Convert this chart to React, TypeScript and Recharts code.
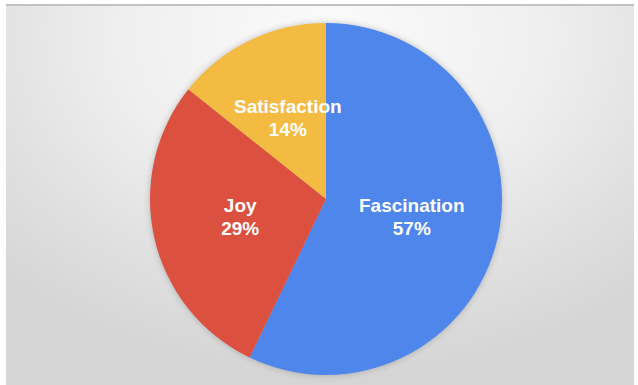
import React from 'react';
import { PieChart, Pie, Cell } from 'recharts';

const categories = ['Fascination', 'Joy', 'Satisfaction'];
const values = [4, 2, 1];
const percentLabels = ['57%', '29%', '14%'];
const colors = ['#4f86ec', '#dc5040', '#f3bb42'];

const data = categories.map((name, i) => ({ name, value: values[i], pct: percentLabels[i] }));

const RADIAN = Math.PI / 180;

const renderLabel = (props: any) => {
  const { cx, cy, midAngle, outerRadius, index } = props;
  const r = outerRadius * 0.5;
  const x = cx + r * Math.cos(-midAngle * RADIAN);
  const y = cy + r * Math.sin(-midAngle * RADIAN);
  return (
    <text
      x={x}
      y={y}
      textAnchor="middle"
      fill="#ffffff"
      fontFamily="'Liberation Sans', Arial, sans-serif"
      fontWeight="bold"
      fontSize={19}
    >
      <tspan x={x} dy={-7}>{data[index].name}</tspan>
      <tspan x={x} dy={23.5}>{data[index].pct}</tspan>
    </text>
  );
};

export default function App() {
  return (
    <div
      style={{
        position: 'absolute',
        left: 6,
        top: 4,
        width: 628,
        height: 381,
        borderTop: '2px solid #c2c2c2',
        boxSizing: 'border-box',
        background:
          'radial-gradient(ellipse 75% 90% at 52% 8%, #fbfbfb 0%, #efefef 45%, #e0e0e0 75%, #d5d5d5 100%)',
      }}
    >
      <style>{`.recharts-pie { filter: drop-shadow(0 0 3px rgba(0,0,0,0.22)); }`}</style>
      <PieChart width={628} height={379}>
        <Pie
          data={data}
          dataKey="value"
          nameKey="name"
          cx={315}
          cy={188}
          outerRadius={176}
          startAngle={90}
          endAngle={-270}
          stroke="none"
          label={renderLabel}
          labelLine={false}
          isAnimationActive={false}
        >
          {data.map((d, i) => (
            <Cell key={d.name} fill={colors[i]} />
          ))}
        </Pie>
      </PieChart>
    </div>
  );
}
